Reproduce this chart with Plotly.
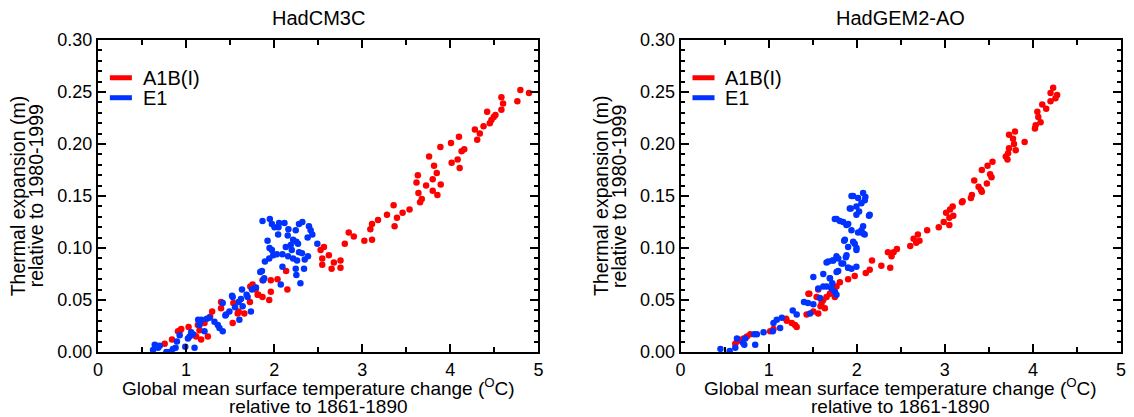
import plotly.graph_objects as go
from plotly.subplots import make_subplots

# ---- data ---------------------------------------------------------------
# HadCM3C, A1B(I)
cm3_a1b_x = [4.795, 4.893, 4.761, 4.580, 4.599, 4.580, 4.512, 4.493, 4.467, 4.448,
             4.418, 4.377, 4.335, 4.279, 4.305, 4.158, 4.128, 4.098, 4.083, 4.015,
             4.106, 4.008, 3.887, 3.759, 3.815, 3.846, 3.800, 3.891, 3.853, 3.800,
             3.725, 3.631, 3.616, 3.638, 3.676, 3.657, 3.537, 3.458, 3.356, 3.394,
             3.367, 3.281, 3.179, 3.111, 3.092, 3.111, 3.024, 2.904, 2.847, 2.802,
             2.753, 2.753, 2.678, 2.652, 2.621, 2.565, 2.527, 2.546, 2.546, 2.136,
             2.038, 1.962, 1.944, 1.868, 1.962, 1.868, 1.812, 1.755, 1.729, 1.725,
             1.661, 1.586, 1.537, 1.529, 1.397, 1.296, 1.273, 1.247, 1.209, 1.171,
             1.134, 1.115, 1.096, 1.028, 0.934, 0.908, 0.840, 0.757, 2.150, 1.790,
             1.820, 0.945, 1.153, 1.397, 1.597]
cm3_a1b_y = [0.252, 0.249, 0.241, 0.245, 0.239, 0.233, 0.228, 0.226, 0.223, 0.220,
             0.231, 0.217, 0.210, 0.214, 0.204, 0.195, 0.193, 0.207, 0.185, 0.182,
             0.177, 0.201, 0.197, 0.188, 0.179, 0.172, 0.166, 0.161, 0.151, 0.155,
             0.160, 0.170, 0.163, 0.153, 0.147, 0.144, 0.137, 0.134, 0.141, 0.129,
             0.121, 0.132, 0.127, 0.123, 0.118, 0.108, 0.107, 0.111, 0.115, 0.104,
             0.088, 0.081, 0.086, 0.080, 0.093, 0.101, 0.098, 0.090, 0.084, 0.078,
             0.070, 0.058, 0.050, 0.069, 0.069, 0.053, 0.055, 0.065, 0.063, 0.048,
             0.037, 0.037, 0.047, 0.028, 0.042, 0.039, 0.034, 0.015, 0.028, 0.012,
             0.026, 0.015, 0.016, 0.024, 0.021, 0.020, 0.012, 0.008, 0.060, 0.060,
             0.055, 0.022, 0.021, 0.048, 0.039]

# HadCM3C, E1
cm3_e1_x = [1.868, 1.951, 1.974, 2.004, 2.056, 2.117, 2.049, 2.162, 2.320, 2.395,
            2.414, 2.380, 2.282, 2.245, 2.215, 2.154, 2.045, 1.925, 1.947, 1.974,
            1.989, 2.030, 2.094, 2.132, 2.188, 2.252, 2.282, 2.316, 2.347, 2.384,
            2.260, 2.215, 1.944, 1.895, 1.861, 1.842, 1.887, 1.876, 2.094, 2.075,
            2.245, 2.252, 2.298, 2.339, 2.490, 2.433, 2.158, 2.271, 2.200, 1.793,
            1.748, 1.687, 1.635, 1.623, 1.597, 1.529, 1.522, 1.556, 1.492, 1.454,
            1.416, 1.446, 1.416, 1.379, 1.360, 1.322, 1.235, 1.209, 1.175, 1.137,
            1.153, 1.077, 1.040, 1.021, 0.991, 0.927, 0.896, 0.881, 0.814, 0.776,
            0.701, 0.644, 0.625, 0.682, 1.096, 1.736, 1.642, 0.663, 0.851, 1.058,
            1.266, 1.699, 1.605]
cm3_e1_y = [0.126, 0.128, 0.123, 0.120, 0.124, 0.124, 0.120, 0.118, 0.125, 0.121,
            0.117, 0.110, 0.123, 0.117, 0.108, 0.112, 0.113, 0.107, 0.100, 0.098,
            0.093, 0.094, 0.094, 0.101, 0.103, 0.106, 0.096, 0.095, 0.089, 0.092,
            0.088, 0.090, 0.090, 0.087, 0.078, 0.077, 0.071, 0.069, 0.082, 0.065,
            0.080, 0.074, 0.066, 0.080, 0.104, 0.113, 0.092, 0.104, 0.098, 0.062,
            0.060, 0.055, 0.060, 0.051, 0.048, 0.053, 0.054, 0.043, 0.039, 0.036,
            0.047, 0.035, 0.020, 0.023, 0.026, 0.029, 0.032, 0.020, 0.031, 0.031,
            0.026, 0.017, 0.015, 0.013, 0.005, 0.016, 0.010, 0.004, 0.000, 0.000,
            0.006, 0.007, 0.002, 0.004, 0.004, 0.039, 0.044, 0.006, 0.003, 0.019,
            0.033, 0.053, 0.031]

# HadGEM2-AO, A1B(I)
gem_a1b_x = [4.230, 4.200, 4.275, 4.256, 4.200, 4.106, 4.151, 4.050, 4.061, 4.087,
             4.031, 4.023, 3.797, 3.729, 3.774, 3.906, 3.785, 3.729, 3.805, 3.718,
             3.692, 3.711, 3.541, 3.485, 3.420, 3.514, 3.530, 3.334, 3.477, 3.383,
             3.409, 3.420, 3.307, 3.296, 3.202, 3.194, 3.089, 3.059, 3.014, 3.096,
             3.051, 2.987, 3.051, 2.931, 2.799, 2.694, 2.645, 2.675, 2.712, 2.607,
             2.456, 2.418, 2.395, 2.354, 2.380, 2.279, 2.173, 2.147, 2.102, 1.977,
             1.902, 1.808, 1.770, 1.714, 1.695, 1.657, 1.620, 1.563, 1.544, 1.589,
             1.563, 1.507, 1.461, 1.431, 1.318, 1.299, 1.262, 1.205, 1.198, 1.055,
             1.017, 0.791, 0.753, 0.716, 0.640, 0.621, 0.659, 1.451, 1.601, 1.638,
             1.751]
gem_a1b_y = [0.254, 0.249, 0.247, 0.244, 0.241, 0.238, 0.234, 0.231, 0.226, 0.221,
             0.218, 0.215, 0.212, 0.209, 0.205, 0.202, 0.200, 0.196, 0.194, 0.191,
             0.188, 0.185, 0.183, 0.179, 0.175, 0.171, 0.168, 0.165, 0.162, 0.159,
             0.156, 0.154, 0.151, 0.148, 0.145, 0.144, 0.140, 0.137, 0.134, 0.131,
             0.129, 0.125, 0.122, 0.120, 0.117, 0.113, 0.109, 0.105, 0.107, 0.102,
             0.099, 0.096, 0.092, 0.096, 0.081, 0.083, 0.088, 0.079, 0.076, 0.073,
             0.070, 0.067, 0.063, 0.061, 0.056, 0.053, 0.050, 0.060, 0.053, 0.044,
             0.037, 0.039, 0.056, 0.036, 0.024, 0.026, 0.028, 0.030, 0.032, 0.022,
             0.020, 0.017, 0.015, 0.013, 0.010, 0.008, 0.012, 0.056, 0.047, 0.042,
             0.053]

# HadGEM2-AO, E1
gem_e1_x = [2.072, 1.959, 1.932, 2.015, 2.098, 2.053, 1.996, 2.026, 1.996, 2.139,
            2.072, 2.053, 2.090, 2.015, 1.940, 1.883, 1.808, 1.751, 1.857, 1.977,
            1.996, 1.902, 1.876, 1.827, 1.902, 1.996, 1.940, 1.770, 1.725, 1.657,
            1.789, 1.507, 1.620, 1.695, 1.722, 1.657, 1.751, 1.770, 1.563, 1.401,
            1.446, 1.507, 1.469, 1.273, 1.318, 1.149, 1.092, 1.055, 1.130, 1.047,
            0.942, 0.866, 0.836, 0.734, 0.708, 0.640, 0.723, 0.847, 0.621, 0.452,
            0.557, 1.940, 2.091, 1.921, 2.147, 1.771, 1.846, 1.903, 2.072, 1.865,
            1.959, 1.997, 1.884, 1.677, 1.733, 1.790, 1.846, 1.903, 1.771, 1.695,
            1.620, 1.714, 1.582]
gem_e1_y = [0.153, 0.150, 0.138, 0.148, 0.149, 0.143, 0.140, 0.135, 0.132, 0.131,
            0.121, 0.117, 0.113, 0.115, 0.117, 0.122, 0.126, 0.128, 0.107, 0.104,
            0.098, 0.101, 0.091, 0.085, 0.081, 0.082, 0.080, 0.092, 0.088, 0.086,
            0.078, 0.072, 0.075, 0.071, 0.066, 0.063, 0.058, 0.055, 0.061, 0.048,
            0.047, 0.046, 0.037, 0.040, 0.036, 0.033, 0.031, 0.028, 0.023, 0.020,
            0.019, 0.017, 0.017, 0.013, 0.009, 0.013, 0.007, 0.007, 0.004, 0.003,
            0.001, 0.150, 0.146, 0.138, 0.132, 0.128, 0.125, 0.123, 0.114, 0.108,
            0.106, 0.100, 0.093, 0.087, 0.088, 0.090, 0.085, 0.081, 0.077, 0.071,
            0.063, 0.061, 0.052]

panel_titles = ["HadCM3C", "HadGEM2-AO"]
series_names = ["A1B(I)", "E1"]
y_ticks = [0.00, 0.05, 0.10, 0.15, 0.20, 0.25, 0.30]
x_ticks = [0, 1, 2, 3, 4, 5]

RED = "#ff0000"
BLUE = "#0033ff"
FONT = "Liberation Sans, Arial, sans-serif"

fig = make_subplots(rows=1, cols=2, horizontal_spacing=0.139)

panels = [
    (cm3_a1b_x, cm3_a1b_y, cm3_e1_x, cm3_e1_y),
    (gem_a1b_x, gem_a1b_y, gem_e1_x, gem_e1_y),
]
for i, (ax, ay, ex, ey) in enumerate(panels):
    col = i + 1
    fig.add_trace(go.Scatter(x=ax, y=ay, mode="markers", name=series_names[0],
                             marker=dict(color=RED, size=6.5), showlegend=False),
                  row=1, col=col)
    fig.add_trace(go.Scatter(x=ex, y=ey, mode="markers", name=series_names[1],
                             marker=dict(color=BLUE, size=6.5), showlegend=False),
                  row=1, col=col)

axis_common = dict(
    showline=True, linecolor="black", linewidth=2, mirror="allticks",
    ticks="inside", ticklen=8, tickwidth=1.5, tickcolor="black",
    showgrid=False, zeroline=False,
    tickfont=dict(family=FONT, size=18, color="black"),
)
fig.update_xaxes(range=[0, 5], tickvals=x_ticks,
                 minor=dict(dtick=0.5, ticks="inside", ticklen=5, tickwidth=1.5, tickcolor="black"),
                 **axis_common)
fig.update_yaxes(range=[0, 0.30], tickvals=y_ticks, tickformat=".2f",
                 minor=dict(dtick=0.01, ticks="inside", ticklen=4, tickwidth=1.5, tickcolor="black"),
                 **axis_common)

# panel titles, axis titles and legend keys (text placement only)
ann = []
shapes = []


def text(xr, x, y, s, size, angle=0, xanchor="center"):
    return dict(xref=f"{xr} domain", yref="y domain", x=x, y=y, text=s,
                showarrow=False, textangle=angle, xanchor=xanchor, yanchor="middle",
                font=dict(family=FONT, size=size, color="black"))


for i, xr in enumerate(["x", "x2"]):
    ann.append(text(xr, 0.5, 1.07, panel_titles[i], 20))
    ann.append(text(xr, 0.5, -0.112,
                    "Global mean surface temperature change (<sup>O</sup>C)", 19))
    ann.append(text(xr, 0.5, -0.174, "relative to 1861-1890", 19))
    ann.append(text(xr, -0.181, 0.5, "Thermal expansion (m)", 19.5, angle=-90))
    ann.append(text(xr, -0.14, 0.5, "relative to 1980-1999", 19.5, angle=-90))
    for name, col, yy in [(series_names[0], RED, 0.879), (series_names[1], BLUE, 0.815)]:
        shapes.append(dict(type="line", xref=f"{xr} domain", yref="y domain",
                           x0=0.027, x1=0.077, y0=yy, y1=yy,
                           line=dict(color=col, width=5)))
        ann.append(text(xr, 0.097, yy, name, 20, xanchor="left"))

fig.update_layout(
    width=1134, height=417,
    margin=dict(l=98, r=8, t=40, b=65),
    plot_bgcolor="white", paper_bgcolor="white",
    annotations=ann, shapes=shapes,
    showlegend=False,
)

# drop the browser's default 8px page margin so the figure fills the window
fig.write_html("out.html", config={"displayModeBar": False},
               post_script="document.body.style.margin='0';document.body.style.overflow='hidden';")
